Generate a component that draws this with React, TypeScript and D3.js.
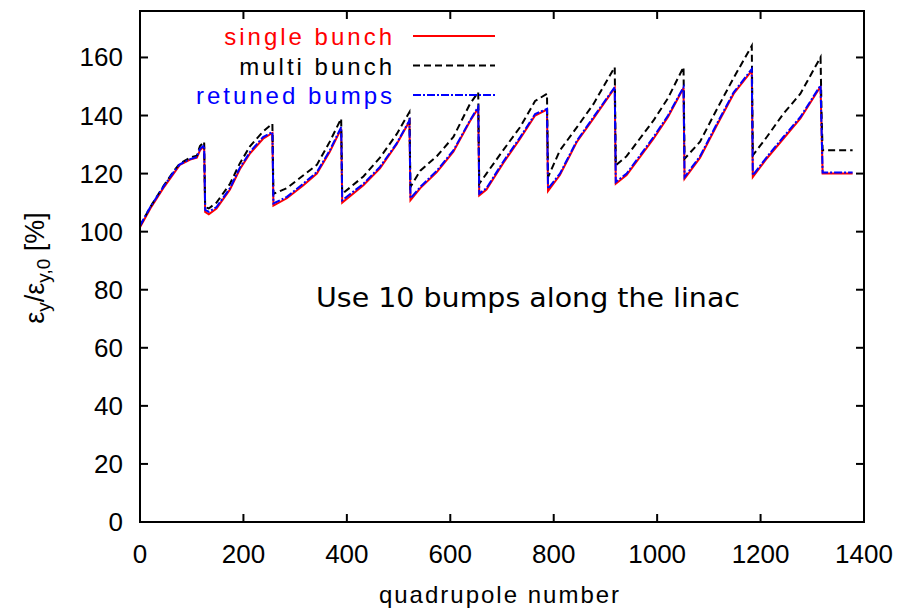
import React from "react";
import * as d3 from "d3";

// quadrupole index (shared by all three curves)
const quads = [
  0, 20, 45, 65, 77, 97, 110, 116, 124,
  126, 133, 148, 174, 193, 213, 238, 256,
  258, 284, 316, 342, 367, 389,
  391, 432, 464, 496, 521,
  523, 542, 574, 606, 638, 654,
  656, 670, 702, 735, 764, 787,
  789, 812, 845, 877, 918,
  920, 941, 993, 1021, 1051,
  1053, 1083, 1115, 1148, 1183,
  1185, 1212, 1244, 1277, 1316,
  1318, 1320, 1378,
];

const singleBunch = [
  101.5, 108, 115, 120, 123, 124.8, 125.5, 128, 129.5,
  106.8, 106, 108, 114.5, 121.5, 127, 132, 134,
  109, 111.5, 116, 120, 127.5, 135.5,
  110, 116, 121.8, 130, 138,
  110.8, 115, 120.5, 127.5, 138, 142.5,
  112.5, 114.5, 123.5, 132, 140, 142,
  114, 119.5, 131, 139, 149.5,
  116.5, 119.5, 132, 139.5, 149.5,
  118.2, 125.5, 136.5, 147.5, 155.5,
  118.8, 125.2, 132, 139, 150,
  134.5, 120, 120,
];

const multiBunch = [
  102, 108.5, 115.6, 120.8, 123.5, 125.5, 126.2, 129.5, 131,
  108.5, 108, 110, 116.5, 123.5, 129.5, 134.5, 137.2,
  113, 115, 119.4, 123, 131, 139,
  113, 119, 125.5, 133.5, 141.2,
  115.4, 121, 126, 132.6, 144, 148,
  116.5, 120, 128, 136, 145, 147.5,
  118.8, 128, 136, 144, 156.7,
  122.8, 126, 138.3, 146, 156.7,
  125.1, 131, 142, 153, 164,
  126.3, 132.6, 140.6, 147.5, 160.1,
  140, 128, 128,
];

const retunedBumps = [
  102, 108.5, 115.4, 120.5, 123.2, 125, 125.7, 128.5, 129.8,
  107.5, 106.8, 108.5, 115, 122, 127.5, 132.6, 134.3,
  109.7, 112, 116.6, 120.5, 128, 136,
  110.8, 116.5, 122.3, 130.3, 138.3,
  111.5, 115.4, 121, 128, 138.3, 143,
  113.1, 115, 124, 132.5, 140.5, 142.3,
  114.8, 120, 131.4, 139.5, 149.8,
  117.1, 120, 132.6, 140, 149.8,
  118.8, 126, 137, 148, 156,
  119.4, 125.7, 132.6, 139.5, 150.4,
  135, 120.4, 120.4,
];

const xTicks = [0, 200, 400, 600, 800, 1000, 1200, 1400];
const yTicks = [0, 20, 40, 60, 80, 100, 120, 140, 160];

const series = [
  { name: "single bunch", values: singleBunch, color: "#ff0000", dash: "none" },
  { name: "multi bunch", values: multiBunch, color: "#000000", dash: "7,4" },
  { name: "retuned bumps", values: retunedBumps, color: "#0000ff", dash: "8,2,2,2" },
];

const W = 899;
const H = 614;
const left = 140, right = 864, top = 11, bottom = 522;

const App = () => {
  const x = d3.scaleLinear().domain([0, 1400]).range([left, right]);
  const y = d3.scaleLinear().domain([0, 176]).range([bottom, top]);

  const line = (vals: number[]) =>
    d3.line<number>()
      .x((d, i) => x(quads[i]))
      .y((d) => y(d))(vals) || "";

  const font = "'Liberation Sans', Arial, sans-serif";

  return (
    <svg width={W} height={H} style={{ position: "absolute", left: 0, top: 0, background: "#fff" }}>
      <rect x={0} y={0} width={W} height={H} fill="#fff" />

      {/* curves */}
      {series.map((s) => (
        <path key={s.name} d={line(s.values)} fill="none" stroke={s.color}
          strokeWidth={2} strokeDasharray={s.dash} />
      ))}

      {/* frame */}
      <rect x={left} y={top} width={right - left} height={bottom - top}
        fill="none" stroke="#000" strokeWidth={2} />

      {/* ticks */}
      {yTicks.map((t) => (
        <g key={"y" + t}>
          <line x1={left} x2={left + 8} y1={y(t)} y2={y(t)} stroke="#000" strokeWidth={2} />
          <line x1={right} x2={right - 8} y1={y(t)} y2={y(t)} stroke="#000" strokeWidth={2} />
          <text x={123} y={y(t) + 9} textAnchor="end" fontFamily={font} fontSize={26}>{t}</text>
        </g>
      ))}
      {xTicks.map((t) => (
        <g key={"x" + t}>
          <line x1={x(t)} x2={x(t)} y1={bottom} y2={bottom - 8} stroke="#000" strokeWidth={2} />
          <line x1={x(t)} x2={x(t)} y1={top} y2={top + 8} stroke="#000" strokeWidth={2} />
          <text x={x(t)} y={563} textAnchor="middle" fontFamily={font} fontSize={26}>{t}</text>
        </g>
      ))}

      {/* axis labels */}
      <text x={500} y={603} textAnchor="middle" fontFamily={font} fontSize={24} letterSpacing={2}>
        quadrupole number
      </text>
      <text transform="translate(44,268) rotate(-90)" textAnchor="middle" fontFamily={font} fontSize={27}>
        ε<tspan fontSize={19} dy={6}>y</tspan>
        <tspan dy={-6}>/ε</tspan>
        <tspan fontSize={19} dy={6}>y,0</tspan>
        <tspan dy={-6}> [%]</tspan>
      </text>

      {/* legend */}
      {series.map((s, i) => (
        <g key={"l" + s.name}>
          <text x={395} y={45 + i * 29.5} textAnchor="end" fontFamily={font} fontSize={24}
            letterSpacing={3} fill={s.color}>{s.name}</text>
          <line x1={413} x2={495} y1={36 + i * 29.5} y2={36 + i * 29.5} stroke={s.color}
            strokeWidth={2} strokeDasharray={s.dash} />
        </g>
      ))}

      {/* annotation */}
      <text x={316} y={307} fontFamily="'DejaVu Sans', sans-serif" fontSize={27}
        textLength={424} lengthAdjust="spacingAndGlyphs">
        Use 10 bumps along the linac
      </text>
    </svg>
  );
};

export default App;
